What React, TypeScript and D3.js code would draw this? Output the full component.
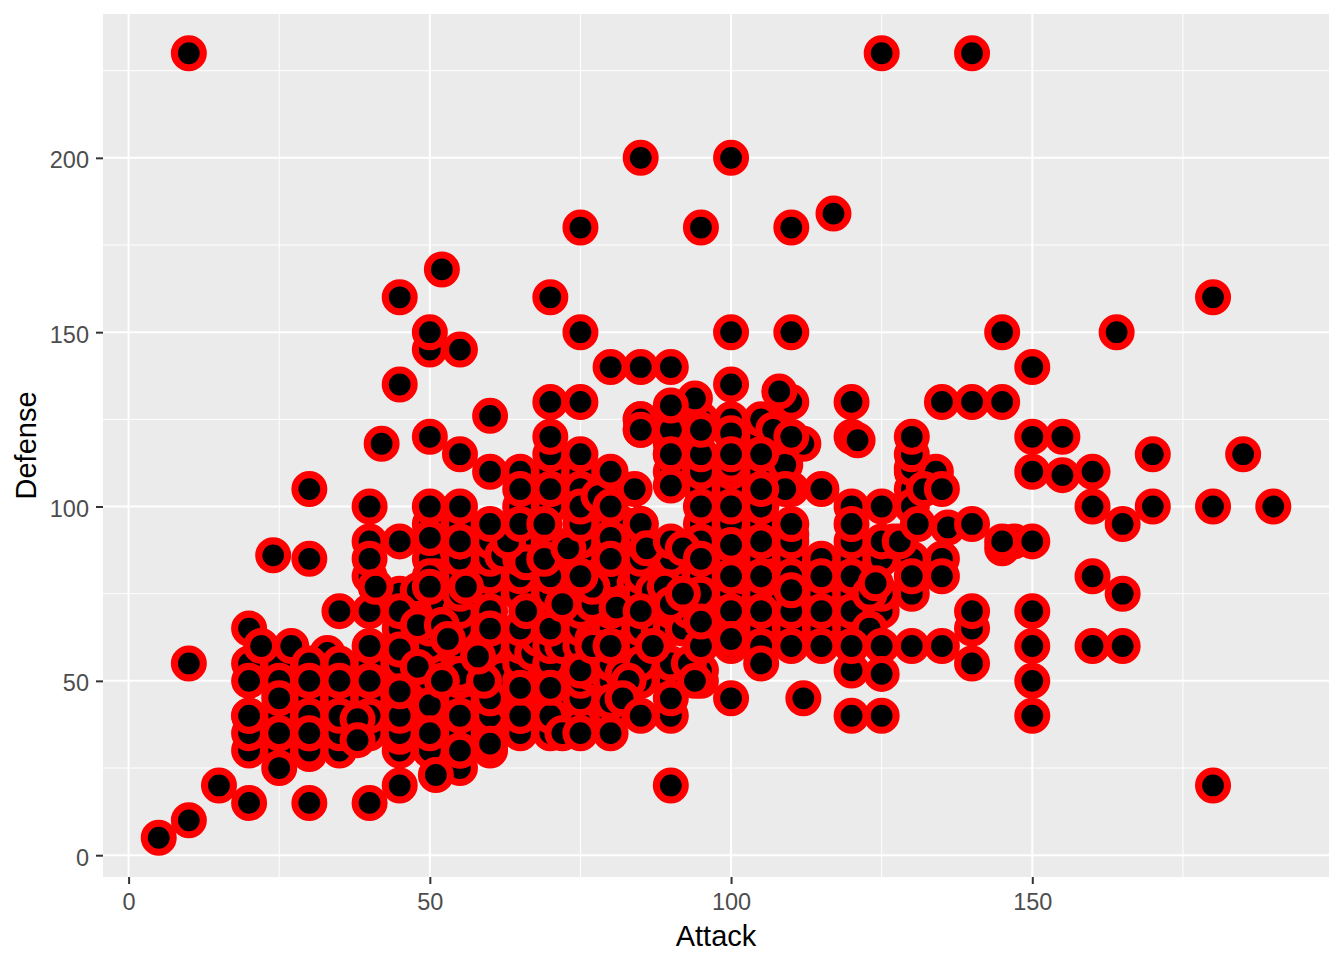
import React, { useEffect, useRef } from 'react';
import * as d3 from 'd3';

// [attack, defense] pairs, drawn in this order so later points sit on top
const backPoints: [number, number][] = [
  [25, 30], [25, 42], [25, 47], [25, 55], [30, 45], [30, 29], [30, 38], [33, 58], [35, 45], [35, 33], [35, 38], [35, 52],
  [37, 38], [40, 45], [40, 55], [40, 37], [45, 30], [45, 34], [45, 37], [45, 43], [45, 50], [45, 55], [45, 65], [45, 75], [48, 43], [50, 34], [50, 40], [50, 45], [50, 50], [50, 55],
  [50, 60], [50, 65], [50, 70], [50, 75], [50, 85], [51, 80], [52, 72], [55, 35], [55, 45], [55, 50], [55, 55], [55, 60], [55, 65], [55, 70], [55, 75], [55, 80], [55, 85],
  [58, 75], [58, 50], [60, 30], [60, 35], [60, 40], [60, 45], [60, 50], [60, 55], [60, 60], [60, 75], [60, 80], [60, 85], [60, 90], [62, 52], [62, 86],
  [64, 43], [65, 35], [65, 45], [65, 50], [65, 55], [65, 60], [65, 75], [65, 80], [65, 85], [65, 90], [65, 100], [65, 108],
  [67, 58], [68, 62], [70, 35], [70, 45], [70, 50], [70, 55], [70, 60], [70, 70], [70, 75], [70, 85], [70, 90], [70, 100], [70, 110], [70, 115],
  [72, 60], [73, 45], [74, 65], [75, 38], [75, 45], [75, 50], [75, 55], [75, 60], [75, 65], [75, 70], [75, 75], [75, 85], [75, 90], [75, 110],
  [77, 52], [77, 62], [78, 80], [79, 95], [80, 40], [80, 50], [80, 55], [80, 65], [80, 70], [80, 75], [80, 80], [80, 95], [80, 105],
  [82, 52], [82, 95], [83, 60], [84, 78], [85, 50], [85, 60], [85, 65], [85, 75], [85, 80], [85, 85], [85, 90], [85, 125],
  [87, 76], [88, 65], [89, 55], [90, 50], [90, 55], [90, 65], [90, 70], [90, 80], [90, 85], [90, 110], [90, 118], [90, 125],
  [92, 65], [93, 70], [95, 50], [95, 53], [95, 70], [95, 80], [95, 95], [95, 105], [95, 110], [95, 125],
  [100, 65], [100, 75], [100, 85], [100, 95], [100, 105], [100, 110], [100, 125], [100, 60],
  [102, 80], [104, 88], [105, 65], [105, 75], [105, 85], [105, 95], [105, 100], [105, 110], [105, 120],
  [107, 80], [108, 72], [110, 65], [110, 85], [110, 92], [110, 105],
  [115, 75], [115, 83], [118, 80], [120, 65], [120, 75], [120, 80], [120, 85], [123, 70], [125, 70], [125, 75], [125, 85], [127, 90],
  [130, 85], [130, 110], [130, 105],
];

const midPoints: [number, number][] = [
  [20, 30], [20, 35], [20, 40], [20, 55], [20, 65], [25, 35], [25, 40], [25, 50], [30, 30], [30, 35], [30, 40], [30, 50], [35, 30], [35, 35], [35, 40], [35, 50],
  [40, 35], [40, 40], [40, 50], [40, 80], [40, 90], [45, 35], [45, 40], [50, 30], [50, 43], [50, 80], [50, 95], [50, 100], [55, 25], [55, 30], [55, 90], [55, 95], [55, 100],
  [60, 45], [60, 65], [65, 40], [65, 65], [65, 110], [70, 65], [70, 80], [70, 105], [75, 80], [75, 95], [75, 100], [75, 105],
  [80, 85], [85, 95], [85, 122], [90, 115], [90, 106], [90, 122], [95, 85], [95, 90], [95, 115], [95, 75], [100, 112], [105, 80], [105, 90], [105, 100], [105, 115], [105, 125],
  [110, 90], [110, 80], [110, 70], [115, 85], [115, 65], [120, 120], [120, 100], [120, 90], [120, 70], [120, 80], [123, 75], [123, 65], [125, 90],
  [130, 100], [130, 111], [130, 115], [134, 110], [132, 105], [135, 85], [130, 75], [136, 94], [145, 88], [147, 90], [150, 90], [107, 122], [110, 130], [112, 118], [109, 112], [109, 105],
];

const frontPoints: [number, number][] = [
  [5, 5], [10, 10], [15, 20], [20, 15], [30, 15], [40, 15], [45, 20], [25, 25], [10, 55], [22, 60], [27, 60], [30, 55], [35, 55], [40, 60],
  [35, 50], [20, 50], [25, 45], [30, 50], [40, 50], [20, 40], [25, 35], [30, 35], [38, 39], [38, 33], [45, 47], [51, 23], [45, 59], [48, 54],
  [35, 70], [40, 70], [40, 85], [41, 77], [45, 90], [40, 100], [50, 91], [55, 90], [30, 105], [24, 86], [30, 85], [48, 76], [45, 70], [50, 77],
  [56, 77], [48, 66], [52, 66], [53, 62], [55, 52], [52, 50], [55, 40], [60, 32], [65, 40], [70, 40], [72, 35], [75, 35], [80, 35], [50, 35], [55, 30],
  [59, 50], [58, 57], [65, 48], [70, 48], [75, 53], [77, 60], [80, 60], [85, 55], [83, 50], [80, 44], [82, 45], [85, 40], [90, 40], [90, 45], [87, 60], [93, 55], [94, 50], [95, 60], [95, 67],
  [60, 70], [60, 65], [66, 70], [70, 65], [72, 72], [77, 72], [77, 77], [81, 71], [85, 70], [70, 80], [75, 80], [66, 84], [69, 85], [73, 88], [63, 90], [60, 95], [65, 95], [69, 95], [75, 95],
  [60, 110], [65, 105], [70, 105], [75, 105], [75, 100], [78, 103], [80, 100], [84, 105], [80, 110], [85, 95], [80, 91], [80, 85], [86, 88], [90, 90], [92, 88], [89, 77], [90, 72], [92, 75], [95, 85], [95, 100], [100, 100], [100, 89], [100, 80], [100, 70], [100, 62], [100, 45],
  [105, 70], [105, 60], [105, 55], [105, 90], [105, 105], [110, 60], [110, 70], [110, 76], [110, 95], [112, 45], [115, 60], [115, 70], [115, 80], [115, 105], [120, 40], [120, 53], [120, 60], [120, 95], [124, 78], [125, 100], [125, 60], [125, 52], [125, 40], [128, 90], [131, 95],
  [130, 60], [130, 80], [135, 60], [135, 80], [140, 55], [140, 65], [140, 70], [140, 95], [135, 105], [130, 120], [135, 130], [140, 130], [145, 130], [121, 119], [120, 130],
  [90, 115], [95, 122], [100, 121], [100, 135], [94, 131], [90, 129], [85, 125], [85, 122], [108, 133], [110, 120], [105, 115], [100, 115], [70, 120], [75, 115], [70, 130], [75, 130],
  [10, 230], [125, 230], [140, 230], [85, 200], [100, 200], [75, 180], [95, 180], [110, 180], [117, 184], [52, 168], [45, 160], [70, 160], [50, 145], [50, 150], [55, 145], [75, 150], [100, 150], [110, 150], [145, 150], [164, 150], [180, 160],
  [80, 140], [85, 140], [90, 140], [150, 140], [45, 135], [60, 126], [42, 118], [50, 120], [55, 115], [150, 120], [155, 120], [150, 110], [155, 109], [160, 110], [160, 100], [165, 95], [170, 115], [170, 100], [185, 115], [190, 100], [180, 100],
  [145, 90], [160, 80], [165, 75], [160, 60], [165, 60], [150, 70], [150, 60], [150, 50], [150, 40], [180, 20], [90, 20],
];

const xTicks = [0, 50, 100, 150];
const xMinor = [25, 75, 125, 175];
const yTicks = [0, 50, 100, 150, 200];
const yMinor = [25, 75, 125, 175, 225];

const width = 1344;
const height = 960;
const panel = { left: 103, right: 1329, top: 14, bottom: 877 };
const font = '"Liberation Sans", Arial, sans-serif';

const App: React.FC = () => {
  const svgRef = useRef<SVGSVGElement | null>(null);

  useEffect(() => {
    if (!svgRef.current) return;
    const svg = d3.select(svgRef.current);
    svg.selectAll('*').remove();

    const x = d3.scaleLinear().domain([-4.25, 199.25]).range([panel.left, panel.right]);
    const y = d3.scaleLinear().domain([-6.25, 241.25]).range([panel.bottom, panel.top]);

    // Panel background
    svg.append('rect')
      .attr('x', panel.left)
      .attr('y', panel.top)
      .attr('width', panel.right - panel.left)
      .attr('height', panel.bottom - panel.top)
      .attr('fill', '#EBEBEB');

    // Grid lines
    const grid = svg.append('g').attr('stroke', '#fff');
    grid.selectAll('.vminor').data(xMinor).enter().append('line')
      .attr('x1', d => x(d)).attr('x2', d => x(d))
      .attr('y1', panel.top).attr('y2', panel.bottom).attr('stroke-width', 1);
    grid.selectAll('.hminor').data(yMinor).enter().append('line')
      .attr('y1', d => y(d)).attr('y2', d => y(d))
      .attr('x1', panel.left).attr('x2', panel.right).attr('stroke-width', 1);
    grid.selectAll('.vmajor').data(xTicks).enter().append('line')
      .attr('x1', d => x(d)).attr('x2', d => x(d))
      .attr('y1', panel.top).attr('y2', panel.bottom).attr('stroke-width', 2);
    grid.selectAll('.hmajor').data(yTicks).enter().append('line')
      .attr('y1', d => y(d)).attr('y2', d => y(d))
      .attr('x1', panel.left).attr('x2', panel.right).attr('stroke-width', 2);

    // Points
    const points = [...backPoints, ...midPoints, ...frontPoints];
    svg.append('g').selectAll('circle')
      .data(points)
      .enter()
      .append('circle')
      .attr('cx', d => x(d[0]))
      .attr('cy', d => y(d[1]))
      .attr('r', 14.45)
      .attr('fill', '#000')
      .attr('stroke', '#f00')
      .attr('stroke-width', 7.1);

    // Axes
    const xAxis = svg.append('g')
      .attr('transform', `translate(0,${panel.bottom})`)
      .call(d3.axisBottom(x).tickValues(xTicks).tickSize(7).tickPadding(9).tickFormat(d3.format('d')));
    const yAxis = svg.append('g')
      .attr('transform', `translate(${panel.left},0)`)
      .call(d3.axisLeft(y).tickValues(yTicks).tickSize(7).tickPadding(7).tickFormat(d3.format('d')));

    [xAxis, yAxis].forEach(axis => {
      axis.select('.domain').remove();
      axis.selectAll('line').attr('stroke', '#333').attr('stroke-width', 2);
      axis.selectAll('text')
        .attr('fill', '#4D4D4D')
        .style('font-family', font)
        .style('font-size', '23.5px');
    });
    yAxis.selectAll('text').attr('dy', '0.42em');

    // Axis titles
    svg.append('text')
      .attr('x', (panel.left + panel.right) / 2)
      .attr('y', 946)
      .attr('text-anchor', 'middle')
      .style('font-family', font)
      .style('font-size', '29px')
      .text('Attack');

    svg.append('text')
      .attr('transform', `translate(36,${(panel.top + panel.bottom) / 2}) rotate(-90)`)
      .attr('text-anchor', 'middle')
      .style('font-family', font)
      .style('font-size', '29px')
      .text('Defense');
  }, []);

  return (
    <svg
      ref={svgRef}
      width={width}
      height={height}
      style={{ position: 'absolute', left: 0, top: 0, display: 'block', background: '#fff' }}
    />
  );
};

export default App;
